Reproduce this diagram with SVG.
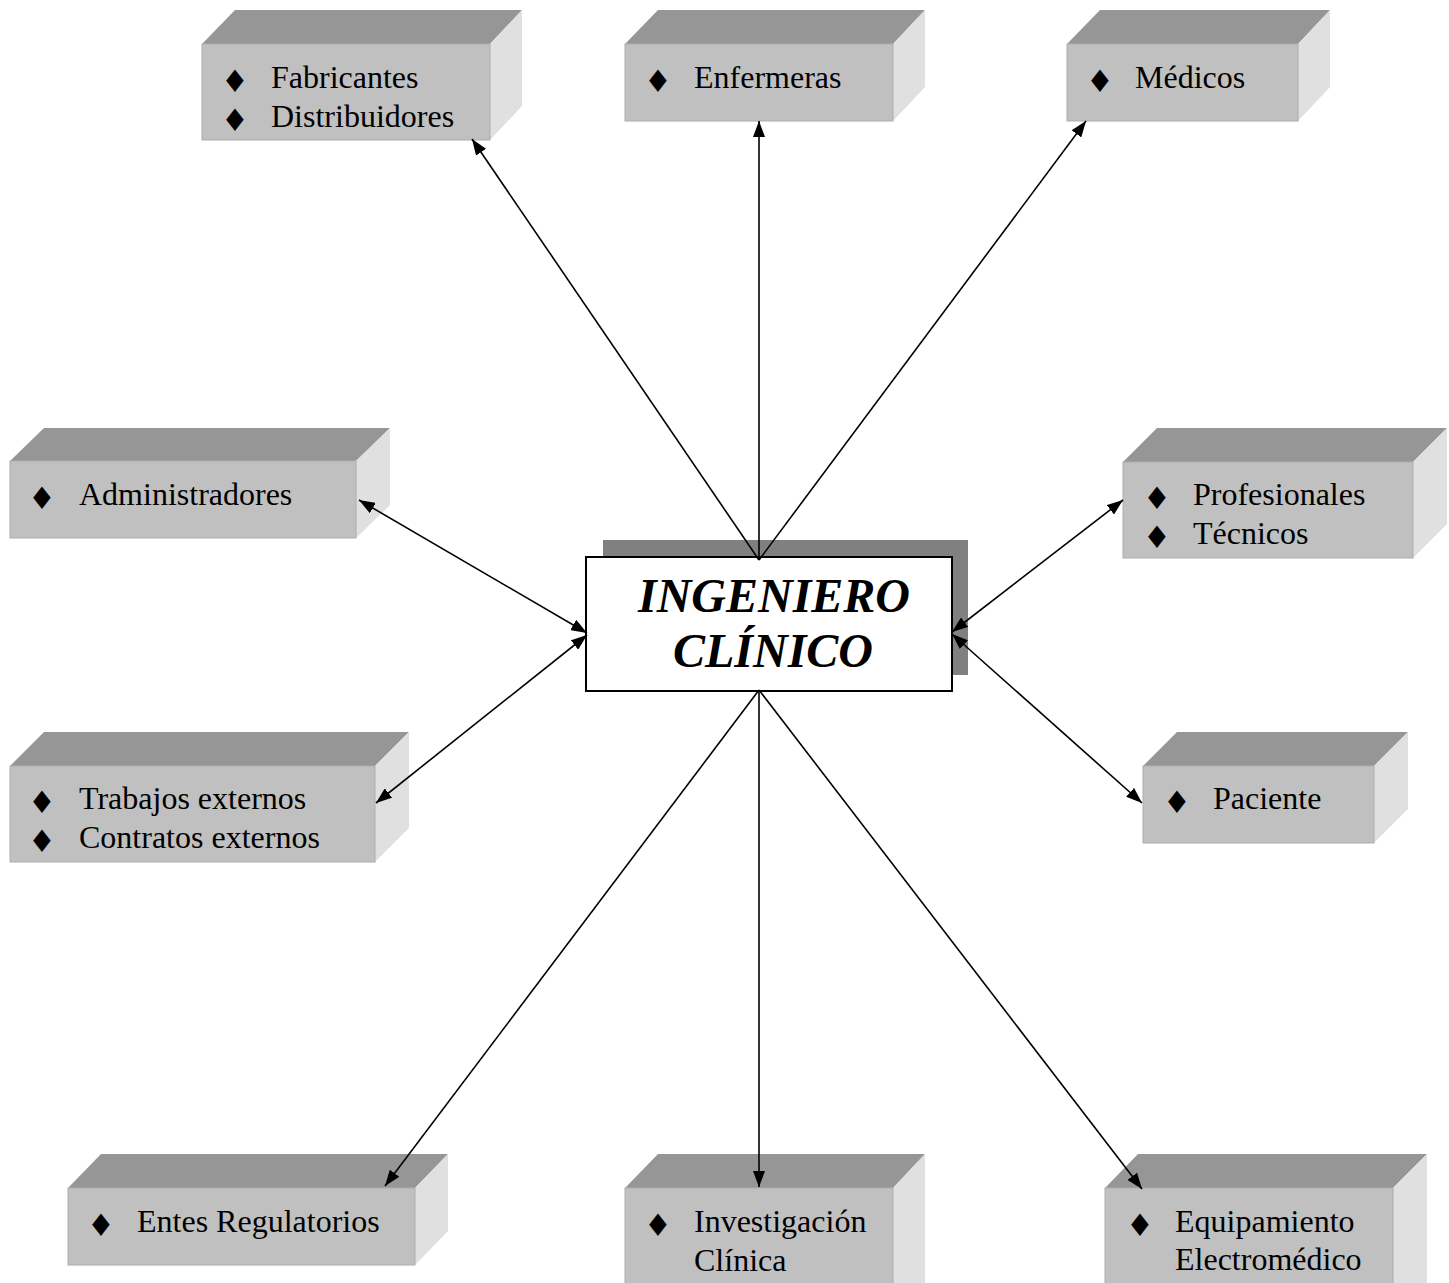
<svg xmlns="http://www.w3.org/2000/svg" width="1449" height="1283" viewBox="0 0 1449 1283">
<style>
.front{fill:#c0c0c0;stroke:#adadad;stroke-width:1}
.top{fill:#969696}
.side{fill:#e0e0e0}
.lbl{font-family:"Liberation Serif","Times New Roman",serif;font-size:32px;fill:#000}
.bul{font-family:"DejaVu Sans",sans-serif;font-size:31px;fill:#000;text-anchor:middle}
.conn{stroke:#000;stroke-width:1.6;fill:none}
.title{font-family:"Liberation Serif","Times New Roman",serif;font-size:48px;font-weight:bold;font-style:italic;text-anchor:middle;fill:#000}
</style>
<defs>
<marker id="ah" viewBox="0 0 16 12" refX="16" refY="6" markerWidth="16" markerHeight="12" markerUnits="userSpaceOnUse" orient="auto-start-reverse">
<path d="M0,0 L16,6 L0,12 z" fill="#000"/>
</marker>
</defs>
<rect width="1449" height="1283" fill="#fff"/>

<g id="fabricantes">
<polygon class="top" points="202,44 235,10 522,10 490,44"/>
<polygon class="side" points="490,44 522,10 522,106 490,140"/>
<rect class="front" x="202" y="44" width="288" height="96"/>
<text class="bul" x="235" y="92">♦</text><text class="lbl" x="271" y="88">Fabricantes</text>
<text class="bul" x="235" y="131">♦</text><text class="lbl" x="271" y="127">Distribuidores</text>
</g>

<g id="enfermeras">
<polygon class="top" points="625,44 658,10 925,10 893,44"/>
<polygon class="side" points="893,44 925,10 925,87 893,121"/>
<rect class="front" x="625" y="44" width="268" height="77"/>
<text class="bul" x="658" y="92">♦</text><text class="lbl" x="694" y="88">Enfermeras</text>
</g>

<g id="medicos">
<polygon class="top" points="1067,44 1100,10 1330,10 1298,44"/>
<polygon class="side" points="1298,44 1330,10 1330,87 1298,121"/>
<rect class="front" x="1067" y="44" width="231" height="77"/>
<text class="bul" x="1100" y="92">♦</text><text class="lbl" x="1135" y="88">Médicos</text>
</g>

<g id="administradores">
<polygon class="top" points="10,461 44,428 390,428 356,461"/>
<polygon class="side" points="356,461 390,428 390,505 356,538"/>
<rect class="front" x="10" y="461" width="346" height="77"/>
<text class="bul" x="42" y="509">♦</text><text class="lbl" x="79" y="505">Administradores</text>
</g>

<g id="profesionales">
<polygon class="top" points="1123,462 1157,428 1447,428 1413,462"/>
<polygon class="side" points="1413,462 1447,428 1447,524 1413,558"/>
<rect class="front" x="1123" y="462" width="290" height="96"/>
<text class="bul" x="1157" y="509">♦</text><text class="lbl" x="1193" y="505">Profesionales</text>
<text class="bul" x="1157" y="548">♦</text><text class="lbl" x="1193" y="544">Técnicos</text>
</g>

<g id="trabajos">
<polygon class="top" points="10,766 44,732 409,732 375,766"/>
<polygon class="side" points="375,766 409,732 409,828 375,862"/>
<rect class="front" x="10" y="766" width="365" height="96"/>
<text class="bul" x="42" y="813">♦</text><text class="lbl" x="79" y="809">Trabajos externos</text>
<text class="bul" x="42" y="852">♦</text><text class="lbl" x="79" y="848">Contratos externos</text>
</g>

<g id="paciente">
<polygon class="top" points="1143,766 1177,732 1408,732 1374,766"/>
<polygon class="side" points="1374,766 1408,732 1408,809 1374,843"/>
<rect class="front" x="1143" y="766" width="231" height="77"/>
<text class="bul" x="1177" y="813">♦</text><text class="lbl" x="1213" y="809">Paciente</text>
</g>

<g id="entes">
<polygon class="top" points="68,1188 101,1154 448,1154 415,1188"/>
<polygon class="side" points="415,1188 448,1154 448,1231 415,1265"/>
<rect class="front" x="68" y="1188" width="347" height="77"/>
<text class="bul" x="101" y="1236">♦</text><text class="lbl" x="137" y="1232">Entes Regulatorios</text>
</g>

<g id="investigacion">
<polygon class="top" points="625,1188 658,1154 925,1154 893,1188"/>
<polygon class="side" points="893,1188 925,1154 925,1290 893,1290"/>
<rect class="front" x="625" y="1188" width="268" height="110"/>
<text class="bul" x="658" y="1236">♦</text><text class="lbl" x="694" y="1232">Investigación</text>
<text class="lbl" x="694" y="1271">Clínica</text>
</g>

<g id="equipamiento">
<polygon class="top" points="1105,1188 1138,1154 1427,1154 1393,1188"/>
<polygon class="side" points="1393,1188 1427,1154 1427,1290 1393,1290"/>
<rect class="front" x="1105" y="1188" width="288" height="110"/>
<text class="bul" x="1140" y="1236">♦</text><text class="lbl" x="1175" y="1232">Equipamiento</text>
<text class="lbl" x="1175" y="1270">Electromédico</text>
</g>

<g id="ingeniero">
<rect x="603" y="540" width="365" height="135" fill="#808080"/>
<rect x="586" y="557" width="366" height="134" fill="#fff" stroke="#000" stroke-width="2"/>
<text class="title" x="774" y="612">INGENIERO</text>
<text class="title" x="773" y="667">CLÍNICO</text>
</g>

<g id="connectors">
<line class="conn" x1="759" y1="560" x2="472" y2="139" marker-end="url(#ah)"/>
<line class="conn" x1="759" y1="560" x2="759" y2="121" marker-end="url(#ah)"/>
<line class="conn" x1="759" y1="560" x2="1086" y2="121" marker-end="url(#ah)"/>
<line class="conn" x1="359" y1="500" x2="587" y2="633" marker-start="url(#ah)" marker-end="url(#ah)"/>
<line class="conn" x1="587" y1="635" x2="376" y2="803" marker-start="url(#ah)" marker-end="url(#ah)"/>
<line class="conn" x1="1123" y1="500" x2="952" y2="632" marker-start="url(#ah)" marker-end="url(#ah)"/>
<line class="conn" x1="1142" y1="803" x2="952" y2="634" marker-start="url(#ah)" marker-end="url(#ah)"/>
<line class="conn" x1="759" y1="690" x2="385" y2="1186" marker-end="url(#ah)"/>
<line class="conn" x1="759" y1="690" x2="759" y2="1187" marker-end="url(#ah)"/>
<line class="conn" x1="759" y1="690" x2="1142" y2="1189" marker-end="url(#ah)"/>
</g>
</svg>
